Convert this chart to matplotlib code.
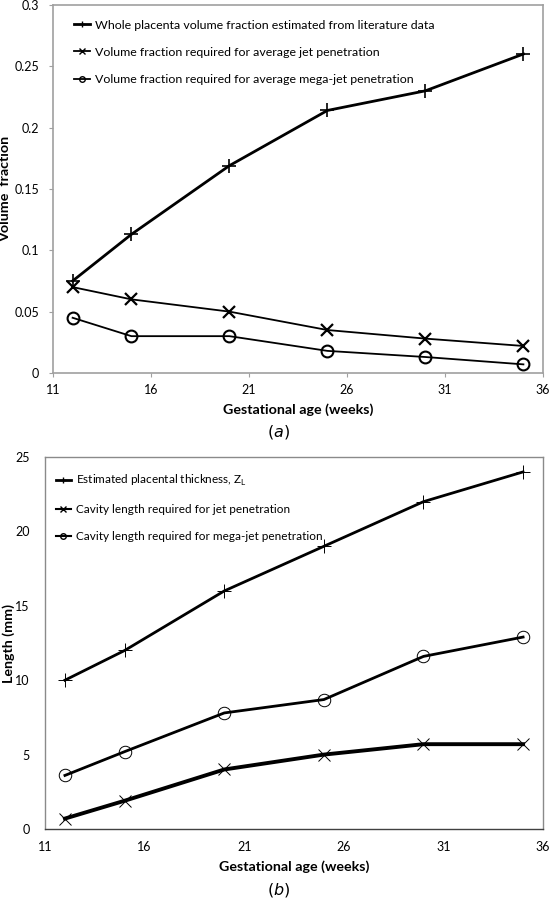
import matplotlib
matplotlib.use("Agg")
import matplotlib.pyplot as plt
from matplotlib.lines import Line2D

plt.rcParams['font.family'] = ['Lato', 'DejaVu Sans']

weeks = [12, 15, 20, 25, 30, 35]

# panel (a): volume fraction
vf_whole = [0.075, 0.113, 0.169, 0.214, 0.230, 0.260]
vf_jet = [0.070, 0.060, 0.050, 0.035, 0.028, 0.022]
vf_mega = [0.045, 0.030, 0.030, 0.018, 0.013, 0.007]
labels_a = ['Whole placenta volume fraction estimated from literature data',
            'Volume fraction required for average jet penetration',
            'Volume fraction required for average mega-jet penetration']

# panel (b): length (mm)
len_thick = [10, 12, 16, 19, 22, 24]
len_jet = [0.7, 1.9, 4.0, 5.0, 5.7, 5.7]
len_mega = [3.6, 5.2, 7.8, 8.7, 11.6, 12.9]
labels_b = ['Estimated placental thickness, Z$_{\\mathregular{L}}$',
            'Cavity length required for jet penetration',
            'Cavity length required for mega-jet penetration']

xticks = [11, 16, 21, 26, 31, 36]
fs_tick = 9
fs_lab = 10.3

fig = plt.figure(figsize=(5.51, 9.0), dpi=100)
ax1 = fig.add_axes([0.0962, 0.5856, 0.8893, 0.4089])
ax2 = fig.add_axes([0.0817, 0.0789, 0.9038, 0.4133])

# ---- (a)
ax1.plot(weeks, vf_whole, color='black', lw=2.0, marker='+', ms=10, mew=1.2)
ax1.plot(weeks, vf_jet, color='black', lw=1.3, marker='x', ms=8, mew=1.6)
ax1.plot(weeks, vf_mega, color='black', lw=1.3, marker='o', ms=8.5, mew=1.5,
         mfc='none')
ax1.set_xlim(11, 36)
ax1.set_ylim(0, 0.3)
ax1.set_xticks(xticks)
ax1.set_yticks([0, 0.05, 0.1, 0.15, 0.2, 0.25, 0.3])
ax1.set_yticklabels(['0', '0.05', '0.1', '0.15', '0.2', '0.25', '0.3'])
for s in ax1.spines.values():
    s.set_color('#a0a0a0')
    s.set_linewidth(1.2)
ax1.tick_params(direction='out', length=3, color='#a0a0a0', labelsize=fs_tick,
                pad=5)
ax1.tick_params(axis='y', pad=7)
ax1.set_xlabel('Gestational age (weeks)', fontsize=fs_lab, fontweight='bold',
               labelpad=5)
ax1.set_ylabel('Volume  fraction', fontsize=fs_lab, fontweight='bold')
ax1.yaxis.set_label_coords(-0.085, 0.5)

h_a = [Line2D([], [], color='black', lw=2.0, marker='+', ms=5, mew=1),
       Line2D([], [], color='black', lw=1.3, marker='x', ms=4, mew=1),
       Line2D([], [], color='black', lw=1.3, marker='o', ms=4, mew=1, mfc='none')]
ax1.legend(h_a, labels_a, loc='upper left', frameon=False, fontsize=8.9,
           handlelength=1.3, handletextpad=0.4, labelspacing=1.3,
           bbox_to_anchor=(0.02, 0.99))
fig.text(0.505, 0.52, '($a$)', ha='center', va='center', fontsize=11.5,
         family='DejaVu Sans')

# ---- (b)
ax2.plot(weeks, len_thick, color='black', lw=2.0, marker='+', ms=10, mew=0.7)
ax2.plot(weeks, len_jet, color='black', lw=2.8, marker='x', ms=9, mew=0.7)
ax2.plot(weeks, len_mega, color='black', lw=2.0, marker='o', ms=9, mew=0.7,
         mfc='none')
ax2.set_xlim(11, 36)
ax2.set_ylim(0, 25)
ax2.set_xticks(xticks)
ax2.set_yticks([0, 5, 10, 15, 20, 25])
for s in ax2.spines.values():
    s.set_color('#8a8a8a')
    s.set_linewidth(1.0)
ax2.spines['bottom'].set_color('#404040')
ax2.tick_params(length=0, labelsize=fs_tick, pad=9)
ax2.tick_params(axis='y', pad=11)
ax2.set_xlabel('Gestational age (weeks)', fontsize=fs_lab, fontweight='bold',
               labelpad=5)
ax2.set_ylabel('Length (mm)', fontsize=fs_lab, fontweight='bold')
ax2.yaxis.set_label_coords(-0.06, 0.5)

h_b = [Line2D([], [], color='black', lw=2.0, marker='+', ms=5, mew=1),
       Line2D([], [], color='black', lw=1.5, marker='x', ms=4, mew=1),
       Line2D([], [], color='black', lw=1.5, marker='o', ms=4, mew=1, mfc='none')]
ax2.legend(h_b, labels_b, loc='upper left', frameon=False, fontsize=8.5,
           handlelength=1.3, handletextpad=0.4, labelspacing=1.35,
           bbox_to_anchor=(0.0, 0.985))
fig.text(0.505, 0.011, '($b$)', ha='center', va='center', fontsize=11.5,
         family='DejaVu Sans')

fig.savefig('out.png', dpi=100)
